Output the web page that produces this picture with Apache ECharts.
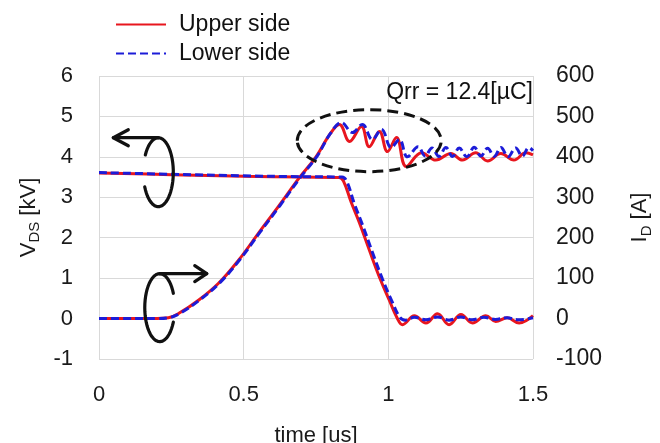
<!DOCTYPE html>
<html>
<head>
    <meta charset="utf-8">
    <script src="https://cdn.jsdelivr.net/npm/echarts@6/dist/echarts.min.js"></script>
    <title>VDS / ID</title>
</head>
<body style="margin: 0">
<div id="container" style="width: 660px; height: 443px"></div>

<script type="text/javascript">
    // [time us, VDS kV]
    var vdsUpper = [
        [0, 3.60], [0.25, 3.56], [0.5, 3.52], [0.7, 3.50], [0.83, 3.49], [0.845, 3.40],
        [0.872, 2.87], [0.90, 2.37], [0.934, 1.70], [0.969, 1.03], [1.003, 0.46], [1.03, 0.02],
        [1.049, -0.15], [1.09, 0.07], [1.13, -0.11], [1.17, 0.12], [1.21, -0.15], [1.251, 0.10],
        [1.291, -0.11], [1.337, 0.07], [1.371, -0.07], [1.411, 0.02], [1.452, -0.11], [1.5, 0.07]
    ];
    var vdsLower = [
        [0, 3.61], [0.25, 3.57], [0.5, 3.53], [0.7, 3.51], [0.84, 3.50], [0.856, 3.40],
        [0.882, 2.85], [0.91, 2.33], [0.944, 1.66], [0.979, 0.99], [1.013, 0.42], [1.04, 0.03],
        [1.058, -0.04], [1.09, 0.03], [1.13, -0.03], [1.17, 0.04], [1.21, -0.04], [1.25, 0.04],
        [1.29, -0.03], [1.33, 0.03], [1.37, -0.02], [1.41, 0.02], [1.45, -0.03], [1.5, 0.02]
    ];
    // [time us, ID A]
    var idUpper = [
        [0, 0], [0.1, 0], [0.2, 0], [0.24, 2], [0.276, 13], [0.345, 46], [0.414, 88],
        [0.483, 145], [0.552, 212], [0.621, 278], [0.69, 346], [0.75, 400], [0.797, 455],
        [0.831, 480], [0.866, 438], [0.907, 475], [0.934, 425], [0.969, 463], [0.997, 413],
        [1.028, 448], [1.062, 376], [1.115, 410], [1.164, 392], [1.216, 408], [1.256, 392],
        [1.302, 410], [1.343, 390], [1.389, 408], [1.434, 392], [1.475, 410], [1.5, 405]
    ];
    var idLower = [
        [0, 0], [0.1, 0], [0.2, 0], [0.24, 2], [0.28, 13], [0.35, 47], [0.418, 89],
        [0.487, 146], [0.556, 213], [0.625, 279], [0.694, 347], [0.754, 402], [0.80, 458],
        [0.838, 485], [0.876, 460], [0.910, 480], [0.945, 443], [0.976, 468], [1.01, 423],
        [1.038, 443], [1.066, 400], [1.103, 425], [1.127, 402], [1.151, 422], [1.175, 401],
        [1.199, 423], [1.222, 401], [1.245, 422], [1.271, 400], [1.297, 424], [1.32, 402],
        [1.343, 421], [1.366, 401], [1.389, 423], [1.414, 400], [1.44, 422], [1.463, 402],
        [1.486, 423], [1.5, 415]
    ];
    var legendNames = ['Upper side', 'Lower side'];
    var qrrText = 'Qrr = 12.4[µC]';

    var RED = '#e8161e';
    var BLUE = '#1c1cd8';
    var FONT = '"Liberation Sans", Arial, sans-serif';

    var dom = document.getElementById('container');
    var myChart = echarts.init(dom, null, {renderer: 'canvas'});

    var axisLabelStyle = {fontSize: 22, color: '#1a1a1a', fontFamily: FONT};
    var nameRich = {
        a: {fontSize: 22, fontFamily: FONT, color: '#1a1a1a', lineHeight: 28},
        s: {fontSize: 15, fontFamily: FONT, color: '#1a1a1a', verticalAlign: 'bottom', lineHeight: 28, padding: [10, 0, 0, 0]}
    };

    var option = {
        backgroundColor: '#fff',
        animation: false,
        textStyle: {fontFamily: FONT},
        legend: {
            orient: 'vertical',
            left: 115,
            top: 13,
            padding: 0,
            itemWidth: 50,
            itemHeight: 12,
            itemGap: 6,
            data: legendNames,
            itemStyle: {opacity: 0},
            textStyle: {fontSize: 23, color: '#111', fontFamily: FONT, padding: [0, 0, 0, 8]}
        },
        grid: {left: 99, right: 127, top: 76, bottom: 84, outerBoundsMode: 'none'},
        xAxis: {
            type: 'value',
            min: 0,
            max: 1.5,
            interval: 0.5,
            name: 'time [us]',
            nameLocation: 'middle',
            nameGap: 66,
            nameTextStyle: {fontSize: 22, color: '#1a1a1a', fontFamily: FONT},
            axisLine: {show: false},
            axisTick: {show: false},
            axisLabel: Object.assign({margin: 25}, axisLabelStyle),
            splitLine: {lineStyle: {color: '#d9d9d9', width: 1}}
        },
        yAxis: [
            {
                type: 'value',
                min: -1,
                max: 6,
                interval: 1,
                name: '{a|V}{s|DS}{a| [kV]}',
                nameLocation: 'middle',
                nameRotate: 90,
                nameGap: 54,
                nameTextStyle: {color: '#1a1a1a', rich: nameRich},
                axisLine: {show: false},
                axisTick: {show: false},
                axisLabel: Object.assign({margin: 26}, axisLabelStyle),
                splitLine: {lineStyle: {color: '#d9d9d9', width: 1}}
            },
            {
                type: 'value',
                min: -100,
                max: 600,
                interval: 100,
                position: 'right',
                name: '{a|I}{s|D}{a| [A]}',
                nameLocation: 'middle',
                nameRotate: 90,
                nameGap: 93,
                nameTextStyle: {color: '#1a1a1a', rich: nameRich},
                axisLine: {show: false},
                axisTick: {show: false},
                axisLabel: Object.assign({margin: 23}, axisLabelStyle, {fontSize: 23}),
                splitLine: {show: false}
            }
        ],
        series: [
            {
                name: 'Upper side', type: 'line', yAxisIndex: 0, data: vdsUpper,
                symbol: 'none', smooth: 0.4,
                lineStyle: {color: RED, width: 3}, itemStyle: {color: RED}
            },
            {
                name: 'Upper side', type: 'line', yAxisIndex: 1, data: idUpper,
                symbol: 'none', smooth: 0.4,
                lineStyle: {color: RED, width: 3}, itemStyle: {color: RED}
            },
            {
                name: 'Lower side', type: 'line', yAxisIndex: 0, data: vdsLower,
                symbol: 'none', smooth: 0.4,
                lineStyle: {color: BLUE, width: 3, type: [8, 4]}, itemStyle: {color: BLUE}
            },
            {
                name: 'Lower side', type: 'line', yAxisIndex: 1, data: idLower,
                symbol: 'none', smooth: 0.4,
                lineStyle: {color: BLUE, width: 3, type: [8, 4]}, itemStyle: {color: BLUE}
            }
        ]
    };

    myChart.setOption(option);

    // annotations: dashed ellipse, Qrr label, rotating arrows
    function toPx(t, v) {
        return myChart.convertToPixel({xAxisIndex: 0, yAxisIndex: 0}, [t, v]);
    }
    function ring(cx, cy, rx, ry, a0, a1) {
        var pts = [];
        for (var i = 0; i <= 48; i++) {
            var a = (a0 + (a1 - a0) * i / 48) * Math.PI / 180;
            pts.push([cx + rx * Math.cos(a), cy + ry * Math.sin(a)]);
        }
        return pts;
    }
    var ink = {stroke: '#111', lineWidth: 3.2, fill: null, lineCap: 'round', lineJoin: 'round'};

    var ell = toPx(0.934, 4.40);
    var qrr = toPx(1.5, 5.6);
    var a1 = toPx(0.205, 3.62);
    var a2 = toPx(0.21, 0.27);
    var t1 = a1[1] - 34.5;
    var t2 = a2[1] - 34;

    myChart.setOption({
        graphic: [
            {
                type: 'ellipse', z: 10,
                shape: {cx: ell[0], cy: ell[1], rx: 72, ry: 31},
                style: {stroke: '#111', lineWidth: 3, fill: null, lineDash: [11, 6]}
            },
            {
                type: 'text', z: 10, x: qrr[0], y: qrr[1],
                style: {text: qrrText, fontSize: 23, fontFamily: FONT, fill: '#111', align: 'right', verticalAlign: 'middle'}
            },
            {type: 'polyline', z: 10, shape: {points: ring(a1[0], a1[1], 15, 34.5, -150, 155)}, style: ink},
            {type: 'polyline', z: 10, shape: {points: [[a1[0], t1], [a1[0] - 45, t1]]}, style: ink},
            {type: 'polyline', z: 10, shape: {points: [[a1[0] - 30, t1 - 8], [a1[0] - 45, t1], [a1[0] - 30, t1 + 8]]}, style: ink},
            {type: 'polyline', z: 10, shape: {points: ring(a2[0], a2[1], 15, 34, 25, 335)}, style: ink},
            {type: 'polyline', z: 10, shape: {points: [[a2[0], t2], [a2[0] + 47, t2]]}, style: ink},
            {type: 'polyline', z: 10, shape: {points: [[a2[0] + 35, t2 - 8], [a2[0] + 47, t2], [a2[0] + 35, t2 + 8]]}, style: ink}
        ]
    });

    window.addEventListener('resize', myChart.resize);
</script>
</body>
</html>
